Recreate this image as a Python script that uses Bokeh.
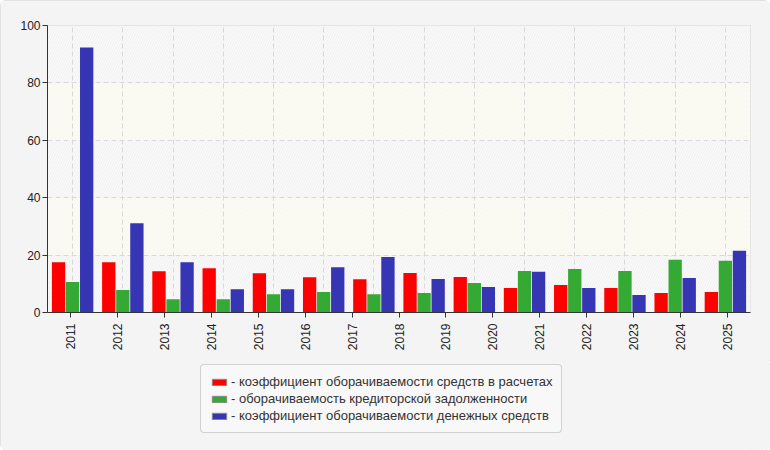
from bokeh.plotting import figure
from bokeh.models import (FactorRange, Range1d, CategoricalAxis, Grid, FixedTicker,
                          BoxAnnotation, Legend, LegendItem, ColumnDataSource)
from bokeh.layouts import column
from bokeh.transform import dodge
from bokeh.embed import file_html
from bokeh.resources import INLINE
import math

tick_labels = ["2011", "2012", "2013", "2014", "2015", "2016", "2017", "2018",
               "2019", "2020", "2021", "2022", "2023", "2024", "2025"]
groups = ["p1", "p2", "p3", "p4", "p5", "p6", "p7", "p8", "p9", "p10", "p11", "p12", "p13", "p14"]
receivables = [17.5, 17.5, 14.4, 15.4, 13.7, 12.3, 11.6, 13.8, 12.4, 8.5, 9.6, 8.5, 6.8, 7.1]
payables = [10.6, 7.8, 4.6, 4.6, 6.4, 7.1, 6.4, 6.8, 10.3, 14.5, 15.2, 14.5, 18.4, 18.0]
cash = [92.3, 31.1, 17.5, 8.1, 8.1, 15.8, 19.3, 11.7, 8.9, 14.2, 8.5, 6.1, 12.0, 21.5]
series_names = ["- коэффициент оборачиваемости средств в расчетах",
                "- оборачиваемость кредиторской задолженности",
                "- коэффициент оборачиваемости денежных средств"]
colors = ["#ff0000", "#34aa34", "#3636b4"]
y_ticks = [0, 20, 40, 60, 80, 100]

FONT = "Liberation Sans"
BG = "#f4f4f4"

p = figure(width=770, height=360, output_backend="svg", toolbar_location=None,
           x_range=FactorRange(factors=groups, range_padding=0),
           y_range=Range1d(0, 100), x_axis_location=None,
           min_border_left=47, min_border_top=25, min_border_right=20, min_border_bottom=48)
p.border_fill_color = BG
p.background_fill_color = "#fafafa"
p.outline_line_color = "#dddddd"
p.xgrid.visible = False
p.ygrid.visible = False

# background bands
for lo in [0, 40, 80]:
    p.add_layout(BoxAnnotation(bottom=lo, top=lo + 20, fill_color="#fafafa", fill_alpha=1,
                               hatch_pattern="/", hatch_color="#efefef", hatch_scale=5,
                               hatch_weight=1, line_alpha=0, level="image"))
for lo in [20, 60]:
    p.add_layout(BoxAnnotation(bottom=lo, top=lo + 20, fill_color="#fcfcf5", fill_alpha=1,
                               hatch_pattern="/", hatch_color="#f6f6ef", hatch_scale=5,
                               hatch_weight=1, line_alpha=0, level="image"))

src = ColumnDataSource(dict(g=groups, a=receivables, b=payables, c=cash))
offs = [-0.28, 0.0, 0.28]
cols = ["a", "b", "c"]
for off, col, color in zip(offs, cols, colors):
    p.vbar(x=dodge("g", off, range=p.x_range), top=col, bottom=0, width=0.265,
           source=src, fill_color=color, line_color=None)

# label axis on its own categorical range
p.extra_x_ranges = {"labels": FactorRange(factors=tick_labels, range_padding=0)}
xaxis = CategoricalAxis(x_range_name="labels")
xaxis.major_label_orientation = math.pi / 2
xaxis.major_label_text_font = FONT
xaxis.major_label_text_font_size = "12px"
xaxis.major_label_text_color = "#222222"
xaxis.axis_line_color = "#333333"
xaxis.major_tick_line_color = "#333333"
xaxis.major_tick_out = 5
xaxis.major_tick_in = 0
xaxis.major_label_standoff = 6
p.add_layout(xaxis, "below")

vgrid = Grid(dimension=0, axis=xaxis, grid_line_color="#d9d9d9", grid_line_dash="5 3")
p.add_layout(vgrid)
hgrid = Grid(dimension=1, ticker=FixedTicker(ticks=y_ticks), grid_line_color="#d9d9d9",
             grid_line_dash="5 3")
p.add_layout(hgrid)

p.yaxis.ticker = FixedTicker(ticks=y_ticks)
p.yaxis.major_label_text_font = FONT
p.yaxis.major_label_text_font_size = "12px"
p.yaxis.major_label_text_color = "#222222"
p.yaxis.axis_line_color = "#333333"
p.yaxis.major_tick_line_color = "#333333"
p.yaxis.major_tick_out = 5
p.yaxis.major_tick_in = 0
p.yaxis.minor_tick_line_color = None
p.yaxis.major_label_standoff = 2

# legend figure (frame aligned with the main plot frame)
lf = figure(width=770, height=90, output_backend="svg", toolbar_location=None,
            x_range=Range1d(0, 1), y_range=Range1d(0, 1),
            x_axis_location=None, y_axis_location=None,
            min_border_left=47, min_border_right=20,
            min_border_top=0, min_border_bottom=0)
lf.border_fill_color = BG
lf.background_fill_color = BG
lf.outline_line_color = None
lf.xgrid.visible = False
lf.ygrid.visible = False
nan = float("nan")
items = []
for name, color in zip(series_names, colors):
    r = lf.vbar(x=[nan], top=[nan], width=0.2, fill_color=color, line_color="#8a8a8a",
                line_width=1)
    items.append(LegendItem(label=name, renderers=[r]))
legend = Legend(items=items, location=(153, 17), orientation="vertical")
legend.label_text_font = FONT
legend.label_text_font_size = "13px"
legend.label_text_color = "#333333"
legend.glyph_width = 18
legend.glyph_height = 8
legend.label_standoff = 3
legend.label_height = 15
legend.spacing = 2
legend.padding = 9
legend.margin = 0
legend.border_line_color = "#aaaaaa"
legend.background_fill_color = "#f8f8f8"
legend.background_fill_alpha = 1
try:
    legend.border_radius = 4
except Exception:
    pass
lf.add_layout(legend, "center")

layout = column(p, lf, spacing=0)
try:
    layout.styles = {"outline": "1px solid #dcdcdc", "outline-offset": "-1px",
                     "border-radius": "6px", "overflow": "hidden",
                     "background-color": BG}
except Exception:
    pass

open("out.html", "w").write(file_html(layout, INLINE))
